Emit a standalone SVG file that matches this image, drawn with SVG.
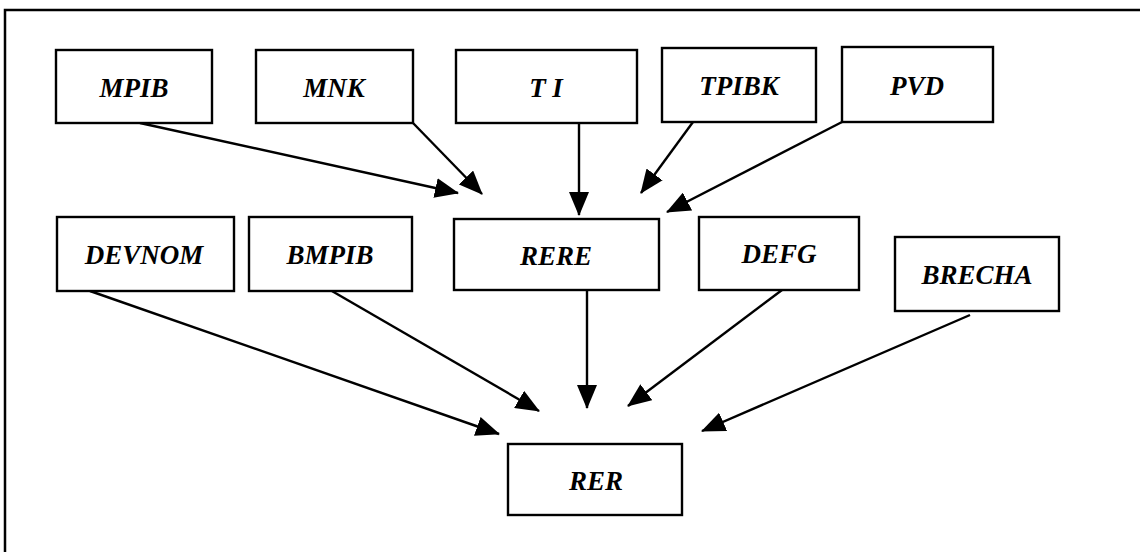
<svg xmlns="http://www.w3.org/2000/svg" width="1140" height="552" viewBox="0 0 1140 552">
<style>
.box{fill:#fff;stroke:#000;stroke-width:2.4}
.lbl{font-family:"Liberation Serif","Times New Roman",serif;font-weight:bold;font-style:italic;font-size:27px;text-anchor:middle;fill:#000}
.con{stroke:#000;stroke-width:2.4;fill:none;marker-end:url(#ah)}
</style>
<defs>
<marker id="ah" viewBox="0 0 24 20" refX="23" refY="10" markerWidth="24" markerHeight="20" markerUnits="userSpaceOnUse" orient="auto">
<path d="M0,0 L24,10 L0,20 Z" fill="#000"/>
</marker>
</defs>
<rect x="0" y="0" width="1140" height="552" fill="#fff"/>
<path d="M5,552 L5,10 L1140,10" fill="none" stroke="#000" stroke-width="2.5"/>
<g id="connectors">
<line class="con" x1="140" y1="123" x2="458" y2="193"/>
<line class="con" x1="413" y1="123" x2="482" y2="194"/>
<line class="con" x1="579" y1="123" x2="579" y2="215"/>
<line class="con" x1="693" y1="122" x2="641" y2="193"/>
<line class="con" x1="842" y1="122" x2="667" y2="212"/>
<line class="con" x1="90" y1="291" x2="499" y2="434"/>
<line class="con" x1="325" y1="287" x2="539" y2="411"/>
<line class="con" x1="587" y1="290" x2="587" y2="408"/>
<line class="con" x1="782" y1="290" x2="628" y2="406"/>
<line class="con" x1="970" y1="315" x2="702" y2="431"/>
</g>
<g id="MPIB"><rect class="box" x="56" y="50" width="156" height="73"/><text class="lbl" x="134" y="97">MPIB</text></g>
<g id="MNK"><rect class="box" x="256" y="50" width="157" height="73"/><text class="lbl" x="334" y="97">MNK</text></g>
<g id="TI"><rect class="box" x="456" y="50" width="181" height="73"/><text class="lbl" x="546" y="97" xml:space="preserve">T I</text></g>
<g id="TPIBK"><rect class="box" x="662" y="48" width="154" height="74"/><text class="lbl" x="739" y="95">TPIBK</text></g>
<g id="PVD"><rect class="box" x="842" y="47" width="151" height="75"/><text class="lbl" x="917" y="95">PVD</text></g>
<g id="DEVNOM"><rect class="box" x="57" y="217" width="177" height="74"/><text class="lbl" x="144" y="264">DEVNOM</text></g>
<g id="BMPIB"><rect class="box" x="249" y="217" width="163" height="74"/><text class="lbl" x="330" y="264">BMPIB</text></g>
<g id="RERE"><rect class="box" x="454" y="219" width="205" height="71"/><text class="lbl" x="556" y="265">RERE</text></g>
<g id="DEFG"><rect class="box" x="699" y="217" width="160" height="73"/><text class="lbl" x="779" y="263">DEFG</text></g>
<g id="BRECHA"><rect class="box" x="895" y="237" width="164" height="74"/><text class="lbl" x="977" y="284">BRECHA</text></g>
<g id="RER"><rect class="box" x="508" y="444" width="174" height="71"/><text class="lbl" x="596" y="490">RER</text></g>
</svg>
